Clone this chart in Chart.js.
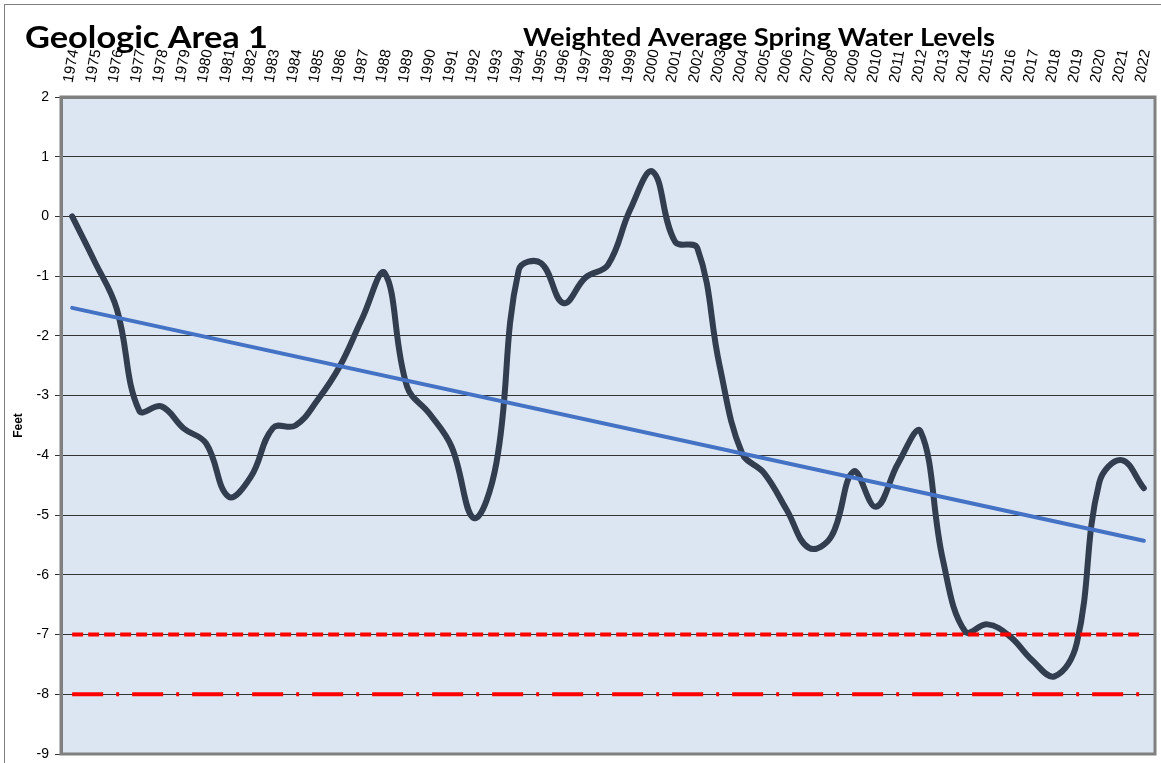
<!DOCTYPE html>
<html><head><meta charset="utf-8">
<script src="https://cdn.jsdelivr.net/npm/chart.js@4/dist/chart.umd.min.js"></script>
<style>
html,body{margin:0;padding:0;background:#fff;overflow:hidden;}
#wrap{position:relative;width:1161px;height:763px;overflow:hidden;}
#frame{position:absolute;left:4px;top:4px;width:1200px;height:800px;border:1.5px solid #808080;box-sizing:border-box;pointer-events:none;}
canvas{position:absolute;left:0;top:0;}
</style></head>
<body><div id="wrap"><canvas id="c" width="1161" height="763"></canvas><div id="frame"></div></div>
<script>
const years = ['1974','1975','1976','1977','1978','1979','1980','1981','1982','1983','1984','1985','1986','1987','1988','1989','1990','1991','1992','1993','1994','1995','1996','1997','1998','1999','2000','2001','2002','2003','2004','2005','2006','2007','2008','2009','2010','2011','2012','2013','2014','2015','2016','2017','2018','2019','2020','2021','2022'];
const waterLevels = [0.0,-0.75,-1.55,-3.25,-3.18,-3.55,-3.8,-4.69,-4.36,-3.54,-3.5,-3.07,-2.5,-1.7,-0.95,-2.85,-3.3,-3.86,-5.05,-4.13,-0.9,-0.78,-1.45,-1.02,-0.81,0.12,0.75,-0.42,-0.53,-2.5,-3.96,-4.3,-4.91,-5.55,-5.36,-4.27,-4.86,-4.13,-3.6,-5.75,-6.95,-6.83,-7.03,-7.43,-7.7,-7.14,-4.46,-4.08,-4.55];
const trendEnds = [-1.53, -5.43];
const refLevels = [-7, -8];
const yTicks = [2,1,0,-1,-2,-3,-4,-5,-6,-7,-8,-9];
const titleMain = 'Geologic Area 1';
const titleSub = 'Weighted Average Spring Water Levels';

const first = years[0], last = years[years.length-1];

const bgPlugin = {
  id:'bg',
  beforeDraw(chart){
    const {ctx, chartArea:a} = chart;
    ctx.save(); ctx.fillStyle='#DCE6F2'; ctx.fillRect(a.left,a.top,a.right-a.left,a.bottom-a.top); ctx.restore();
  },
  afterDraw(chart){
    const {ctx, chartArea:a} = chart;
    ctx.save();
    ctx.strokeStyle='#808080'; ctx.lineWidth=3;
    ctx.strokeRect(a.left,a.top,a.right-a.left,a.bottom-a.top);
    ctx.fillStyle='#000';
    function fitText(t, x, base, size, target){
      ctx.font = 'bold '+size+'px Lato';
      const w = ctx.measureText(t).width;
      ctx.save(); ctx.translate(x, base); ctx.scale(target/w, 1);
      ctx.textBaseline='alphabetic'; ctx.textAlign='left';
      ctx.fillText(t,0,0); ctx.restore();
    }
    fitText(titleMain, 25, 48, 30, 243);
    fitText(titleSub, 523, 45.5, 25, 472);
    ctx.restore();
  }
};

new Chart(document.getElementById('c'), {
  type:'line',
  data:{
    labels: years,
    datasets:[
      {data:[{x:first,y:refLevels[0]},{x:last,y:refLevels[0]}], borderColor:'#FF0000', borderWidth:4, borderDash:[11,5], pointRadius:0, order:0, tension:0},
      {data:[{x:first,y:refLevels[1]},{x:last,y:refLevels[1]}], borderColor:'#FF0000', borderWidth:4, borderDash:[31,13,3,13], pointRadius:0, order:0, tension:0},
      {data:[{x:first,y:trendEnds[0]},{x:last,y:trendEnds[1]}], borderColor:'#4472C4', borderWidth:4, pointRadius:0, order:1, tension:0, borderCapStyle:'round'},
      {data: waterLevels, borderColor:'#323E4F', borderWidth:6, pointRadius:0, order:2, tension:0.4, borderCapStyle:'round', borderJoinStyle:'round'}
    ]
  },
  options:{
    responsive:false, animation:false, devicePixelRatio:1,
    layout:{padding:{left:0,right:6,top:0,bottom:9}},
    plugins:{legend:{display:false}, tooltip:{enabled:false}},
    scales:{
      x:{
        position:'top', offset:true,
        grid:{display:false, drawTicks:false},
        border:{display:true, color:'#808080', width:3},
        ticks:{minRotation:80, maxRotation:80, autoSkip:false, font:{family:'Liberation Sans', size:15}, color:'#000', padding:13, labelOffset:14},
        afterFit(s){ s.height = 97; s.paddingLeft = 0; s.paddingRight = 0; }
      },
      y:{
        min:-9, max:2,
        afterBuildTicks(s){ s.ticks = yTicks.map(v=>({value:v})); },
        ticks:{font:{family:'Liberation Sans', size:14}, color:'#000', padding:6},
        grid:{color:'#333333', lineWidth:1, tickLength:6, tickColor:'#333333', tickWidth:1},
        border:{color:'#808080', width:3},
        title:{display:true, text:'Feet', font:{family:'Liberation Sans', size:12, weight:'bold'}, color:'#000', padding:{top:11,bottom:0}},
        afterFit(s){ s.width = 61; s.paddingTop = 0; s.paddingBottom = 0; }
      }
    }
  },
  plugins:[bgPlugin]
});
</script>
</body></html>
